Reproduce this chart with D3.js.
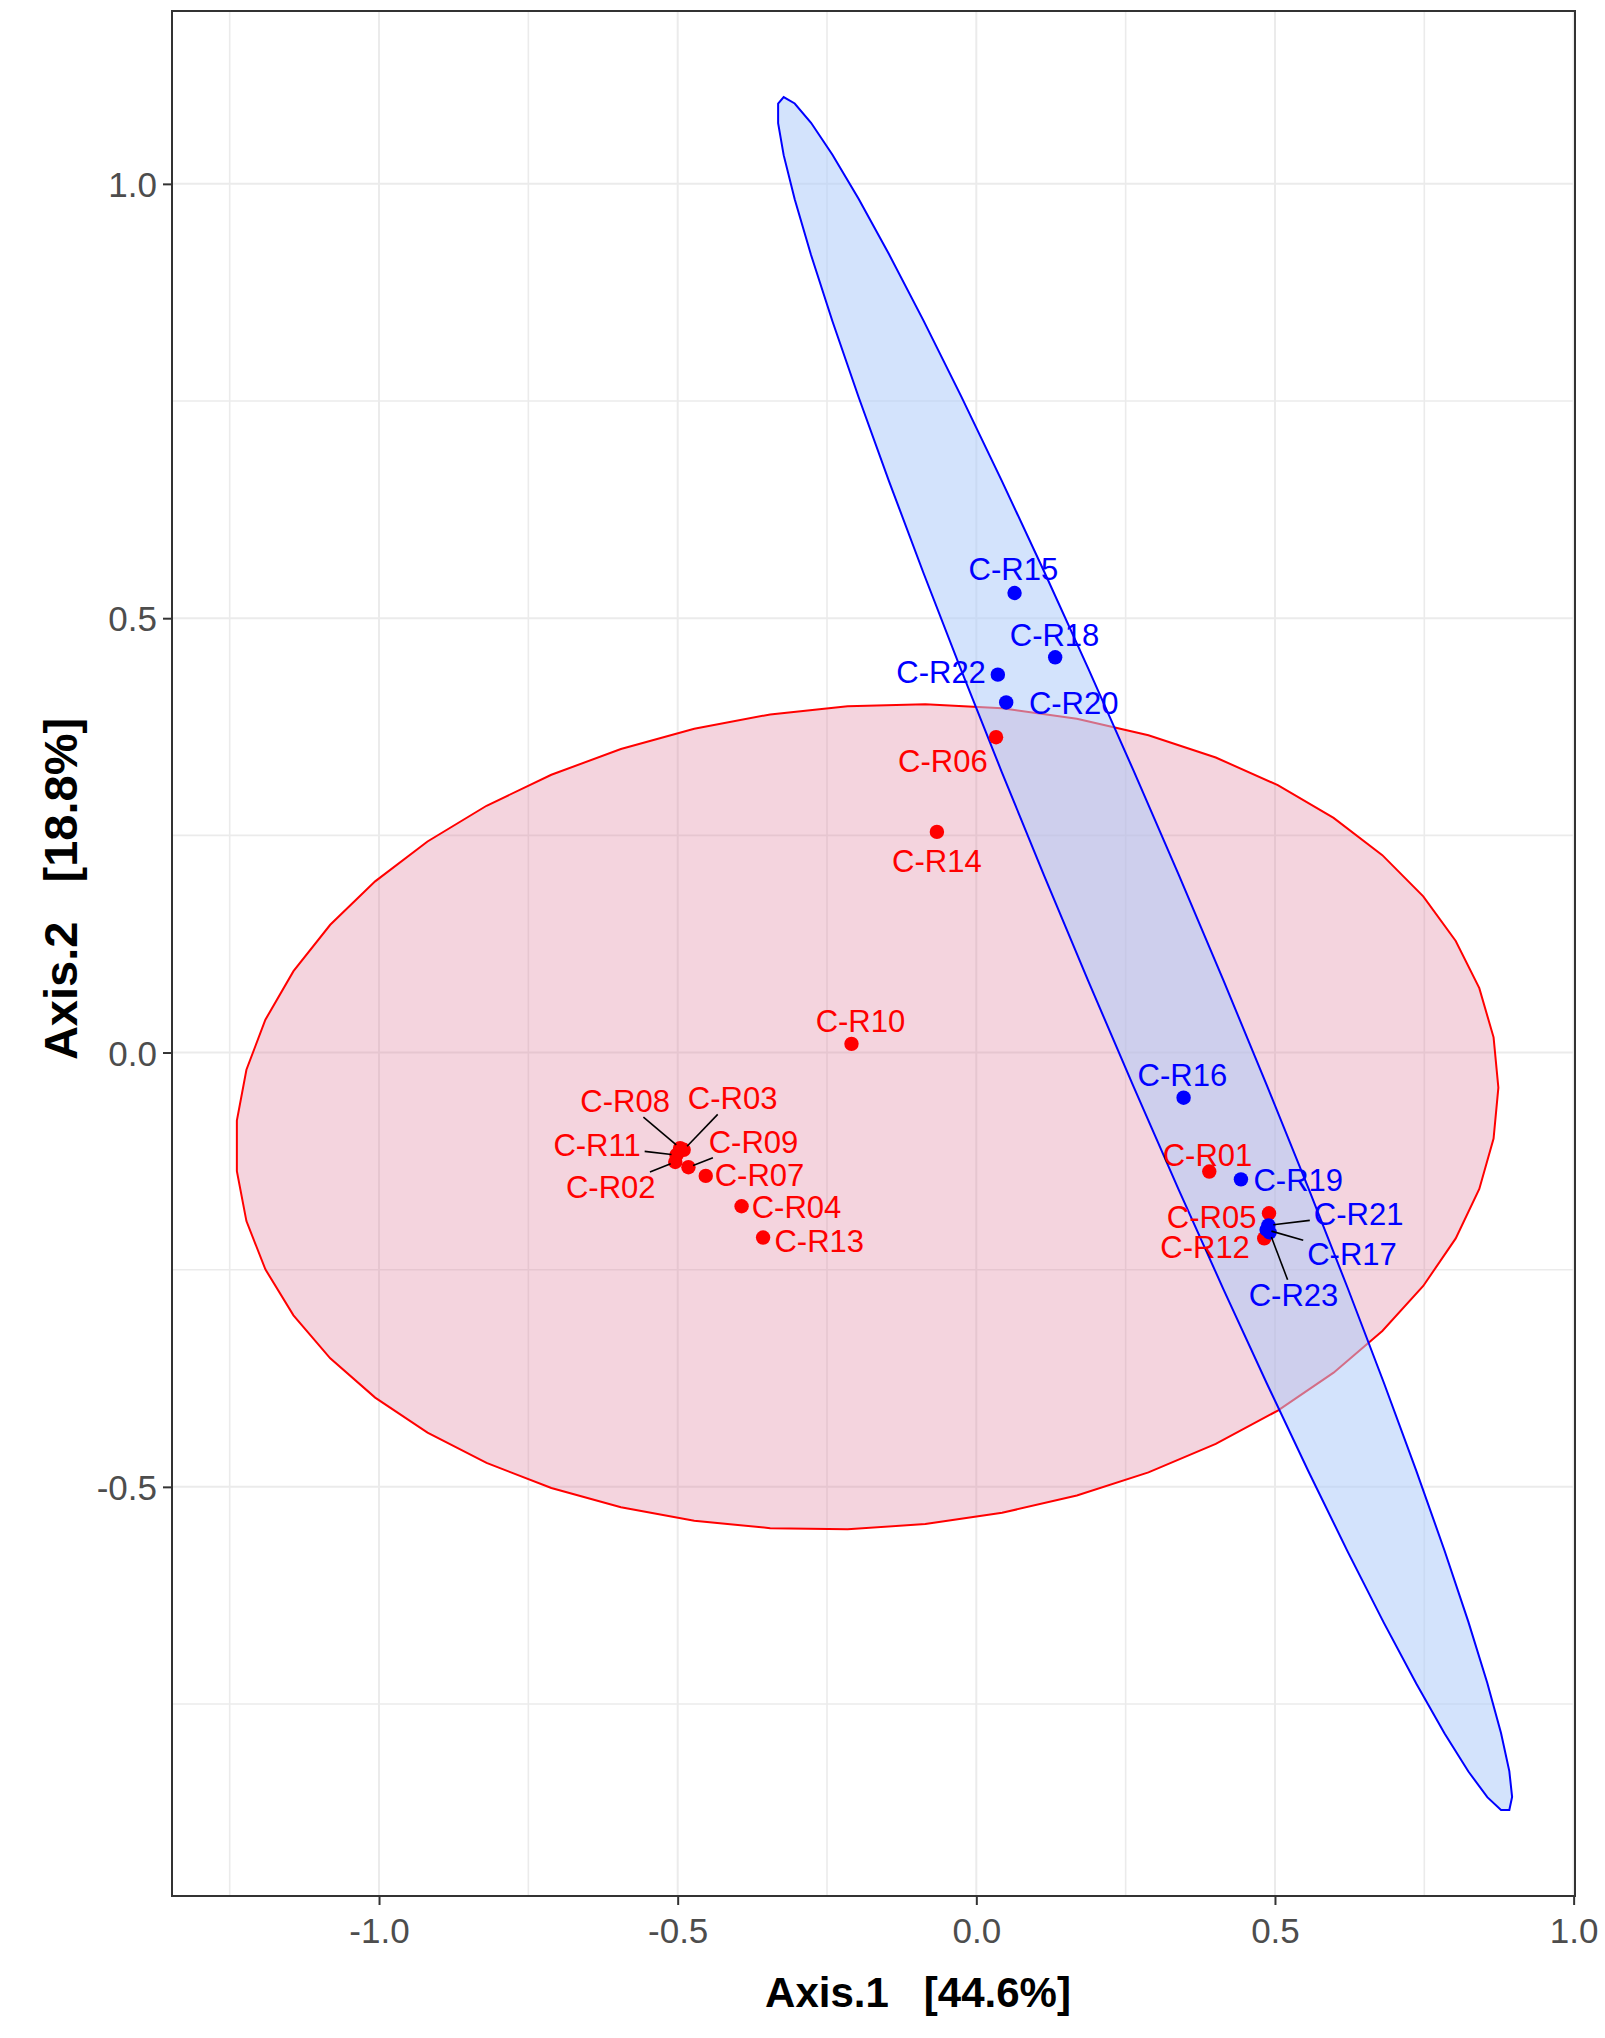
<!DOCTYPE html>
<html>
<head>
<meta charset="utf-8">
<script src="https://cdn.jsdelivr.net/npm/d3@7"></script>
<style>
  body { margin: 0; background: #fff; }
  svg text { font-family: "Liberation Sans", Arial, sans-serif; }
</style>
</head>
<body>
<svg id="chart" width="1605" height="2038"></svg>
<script>
// samples, in plotting order
var samples = ["C-R01","C-R02","C-R03","C-R04","C-R05","C-R06","C-R07","C-R08","C-R09","C-R10",
               "C-R11","C-R12","C-R13","C-R14","C-R15","C-R16","C-R17","C-R18","C-R19","C-R20",
               "C-R21","C-R22","C-R23"];
var groups  = ["r","r","r","r","r","r","r","r","r","r",
               "r","r","r","r","b","b","b","b","b","b",
               "b","b","b"];
var axis1 = [0.390,-0.504,-0.490,-0.393,0.490,0.033,-0.453,-0.496,-0.482,-0.209,
             -0.502,0.482,-0.357,-0.066,0.064,0.347,0.486,0.132,0.443,0.050,
             0.489,0.036,0.491];
var axis2 = [-0.137,-0.126,-0.112,-0.177,-0.185,0.363,-0.142,-0.110,-0.132,0.010,
             -0.118,-0.214,-0.213,0.254,0.529,-0.052,-0.204,0.455,-0.146,0.403,
             -0.199,0.435,-0.207];
// repelled label centres, in axis units
var labX = [0.387,-0.612,-0.408,-0.301,0.394,-0.056,-0.363,-0.588,-0.373,-0.194,
            -0.635,0.383,-0.263,-0.066,0.062,0.345,0.629,0.131,0.539,0.163,
            0.640,-0.059,0.531];
var labY = [-0.118,-0.155,-0.053,-0.178,-0.189,0.335,-0.141,-0.056,-0.103,0.036,
            -0.107,-0.224,-0.217,0.220,0.557,-0.026,-0.232,0.480,-0.147,0.402,
            -0.186,0.438,-0.279];
var hasSegment = ["C-R02","C-R03","C-R08","C-R09","C-R11","C-R17","C-R21","C-R23"];

// 95% ellipses: centre + cholesky rows (ggplot stat_ellipse form)
var ellipses = [
  {g: "r", cx: -0.183, cy: -0.074, a: 1.057, b: 0.0335, c: 0.474},
  {g: "b", cx: 0.282, cy: 0.113, a: 0.615, b: -0.970, c: 0.182}
];

var xTicks = [-1.0, -0.5, 0.0, 0.5, 1.0],
    yTicks = [-0.5, 0.0, 0.5, 1.0],
    xMinor = [-1.25, -0.75, -0.25, 0.25, 0.75],
    yMinor = [-0.75, -0.25, 0.25, 0.75];

var col = {r: "#FF0000", b: "#0000FF"},
    fill = {r: "rgb(219,112,147)", b: "rgb(174,203,249)"},
    fillOp = {r: 0.3, b: 0.54};

var svg = d3.select("#chart"),
    pLeft = 172, pRight = 1575, pTop = 11, pBottom = 1896;

var x = d3.scaleLinear().domain([-1.3466, 1.0023]).range([pLeft, pRight]),
    y = d3.scaleLinear().domain([-0.971, 1.199]).range([pBottom, pTop]);

var data = samples.map(function(s, i) {
  return {name: s, g: groups[i], x: axis1[i], y: axis2[i], lx: labX[i], ly: labY[i]};
});

// grid
var grid = svg.append("g");
grid.selectAll(".vminor").data(xMinor).enter().append("line")
    .attr("x1", x).attr("x2", x).attr("y1", pTop).attr("y2", pBottom)
    .attr("stroke", "#EBEBEB").attr("stroke-width", 1.6);
grid.selectAll(".hminor").data(yMinor).enter().append("line")
    .attr("y1", y).attr("y2", y).attr("x1", pLeft).attr("x2", pRight)
    .attr("stroke", "#EBEBEB").attr("stroke-width", 1.6);
grid.selectAll(".vmajor").data(xTicks).enter().append("line")
    .attr("x1", x).attr("x2", x).attr("y1", pTop).attr("y2", pBottom)
    .attr("stroke", "#EBEBEB").attr("stroke-width", 2);
grid.selectAll(".hmajor").data(yTicks).enter().append("line")
    .attr("y1", y).attr("y2", y).attr("x1", pLeft).attr("x2", pRight)
    .attr("stroke", "#EBEBEB").attr("stroke-width", 2);

// ellipses
function ellipsePts(e) {
  return d3.range(52).map(function(i) {
    var t = i * 2 * Math.PI / 51;
    return [x(e.cx + e.a * Math.cos(t)), y(e.cy + e.b * Math.cos(t) + e.c * Math.sin(t))];
  });
}
svg.append("g").selectAll("path").data(ellipses).enter().append("path")
    .attr("d", function(e) { return d3.line()(ellipsePts(e)) + "Z"; })
    .attr("fill", function(e) { return fill[e.g]; })
    .attr("fill-opacity", function(e) { return fillOp[e.g]; })
    .attr("stroke", function(e) { return col[e.g]; })
    .attr("stroke-width", 2);

// points
svg.append("g").selectAll("circle").data(data).enter().append("circle")
    .attr("cx", function(d) { return x(d.x); })
    .attr("cy", function(d) { return y(d.y); })
    .attr("r", 7.2)
    .attr("fill", function(d) { return col[d.g]; });

// labels
var labels = svg.append("g").selectAll("text").data(data).enter().append("text")
    .attr("x", function(d) { return x(d.lx); })
    .attr("y", function(d) { return y(d.ly); })
    .attr("dy", "0.35em")
    .attr("text-anchor", "middle")
    .attr("font-size", 31)
    .attr("fill", function(d) { return col[d.g]; })
    .text(function(d) { return d.name; });

// segments from label box to point
var segs = svg.append("g");
labels.each(function(d) {
  if (hasSegment.indexOf(d.name) < 0) return;
  var bb = this.getBBox(),
      cx = bb.x + bb.width / 2, cy = bb.y + bb.height / 2,
      px = x(d.x), py = y(d.y),
      dx = px - cx, dy = py - cy,
      hw = bb.width / 2 + 4, hh = bb.height / 2 - 2,
      t = Math.min(dx ? hw / Math.abs(dx) : 1e9, dy ? hh / Math.abs(dy) : 1e9),
      len = Math.sqrt(dx * dx + dy * dy);
  segs.append("line")
      .attr("x1", cx + dx * t).attr("y1", cy + dy * t)
      .attr("x2", px - dx / len * 5).attr("y2", py - dy / len * 5)
      .attr("stroke", "#000").attr("stroke-width", 1.6);
});

// panel border
svg.append("rect")
    .attr("x", pLeft).attr("y", pTop)
    .attr("width", pRight - pLeft).attr("height", pBottom - pTop)
    .attr("fill", "none").attr("stroke", "#333333").attr("stroke-width", 2);

// axes
var fmt = function(v) { return d3.format(".1f")(v).replace("\u2212", "-"); };
var xAxis = svg.append("g").attr("transform", "translate(0," + pBottom + ")")
    .call(d3.axisBottom(x).tickValues(xTicks).tickFormat(fmt).tickSize(9).tickPadding(13));
var yAxis = svg.append("g").attr("transform", "translate(" + pLeft + ",0)")
    .call(d3.axisLeft(y).tickValues(yTicks).tickFormat(fmt).tickSize(9).tickPadding(6));
[xAxis, yAxis].forEach(function(a) {
  a.select(".domain").remove();
  a.selectAll("line").attr("stroke", "#333333").attr("stroke-width", 2);
  a.selectAll("text").attr("font-size", 35).attr("fill", "#4D4D4D")
    .attr("font-family", "Liberation Sans, Arial, sans-serif");
});
yAxis.selectAll("text").attr("dy", "0.36em");

// axis titles
svg.append("text")
    .attr("x", 918).attr("y", 2007)
    .attr("text-anchor", "middle")
    .attr("font-size", 42).attr("font-weight", "bold")
    .style("white-space", "pre")
    .text("Axis.1   [44.6%]");
svg.append("text")
    .attr("transform", "translate(77,889) rotate(-90)")
    .attr("text-anchor", "middle")
    .attr("font-size", 47).attr("font-weight", "bold")
    .style("white-space", "pre")
    .text("Axis.2   [18.8%]");
</script>
</body>
</html>
